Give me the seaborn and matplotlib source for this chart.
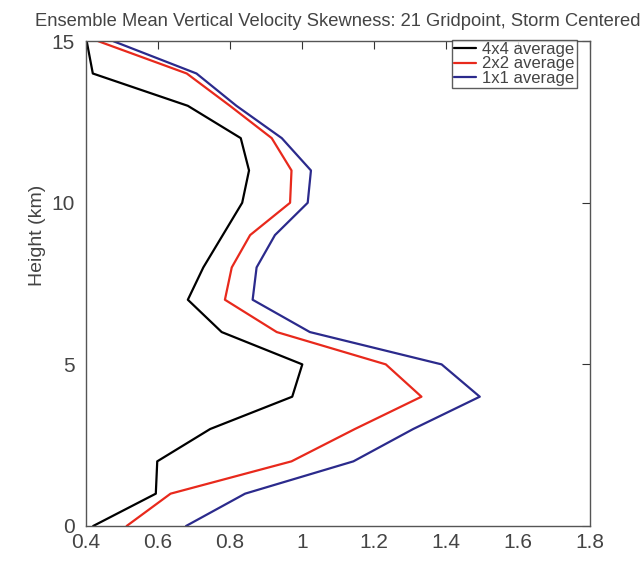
import matplotlib
matplotlib.use("Agg")
import matplotlib.pyplot as plt
import seaborn as sns
import pandas as pd

height_km = [0, 1, 2, 3, 4, 5, 6, 7, 8, 9, 10, 11, 12, 13, 14, 15]
avg_4x4 = [0.42, 0.594, 0.598, 0.745, 0.973, 1.001, 0.777, 0.683, 0.726, 0.78, 0.834, 0.853, 0.83, 0.683, 0.419, 0.402]
avg_2x2 = [0.513, 0.635, 0.971, 1.147, 1.332, 1.233, 0.93, 0.786, 0.805, 0.856, 0.967, 0.971, 0.916, 0.80, 0.68, 0.434]
avg_1x1 = [0.678, 0.842, 1.143, 1.309, 1.494, 1.388, 1.022, 0.863, 0.874, 0.925, 1.016, 1.025, 0.944, 0.818, 0.707, 0.476]
series_names = ["4x4 average", "2x2 average", "1x1 average"]
colors = ["#000000", "#e8291c", "#2b2a8c"]
xticks = [0.4, 0.6, 0.8, 1.0, 1.2, 1.4, 1.6, 1.8]
xtick_labels = ["0.4", "0.6", "0.8", "1", "1.2", "1.4", "1.6", "1.8"]
yticks = [0, 5, 10, 15]

rows = []
for name, vals in zip(series_names, [avg_4x4, avg_2x2, avg_1x1]):
    for h, v in zip(height_km, vals):
        rows.append({"series": name, "height": h, "skew": v})
df = pd.DataFrame(rows)

sns.set_style("white")
plt.rcParams['font.family'] = ['Liberation Sans', 'DejaVu Sans']

fig = plt.figure(figsize=(6.44, 5.64), dpi=100)
ax = fig.add_axes([0.1335, 0.0674, 0.7825, 0.8596])

sns.lineplot(data=df, x="skew", y="height", hue="series", hue_order=series_names,
             palette=colors, sort=False, orient="y", estimator=None, linewidth=1.6, ax=ax)

ax.set_xlim(0.4, 1.8)
ax.set_ylim(0, 15)
ax.set_xticks(xticks)
ax.set_xticklabels(xtick_labels)
ax.set_yticks(yticks)
ax.tick_params(direction="in", top=True, right=True, length=6, width=0.8,
               labelsize=15, colors="#333333")
ax.tick_params(axis="x", pad=5)
ax.tick_params(axis="y", pad=8)
for t in ax.get_xticklabels() + ax.get_yticklabels():
    t.set_color("#444444")
for s in ax.spines.values():
    s.set_color("#555555")
    s.set_linewidth(1.0)
ax.set_xlabel("")
ax.set_ylabel("Height (km)", fontsize=14, color="#444444")
ax.yaxis.set_label_coords(-0.08, 0.60)
fig.text(0.525, 0.962, "Ensemble Mean Vertical Velocity Skewness: 21 Gridpoint, Storm Centered",
         ha="center", va="center", fontsize=13.2, color="#444444")

leg = ax.legend(loc="upper right", bbox_to_anchor=(0.975, 1.003), fontsize=12,
                frameon=True, fancybox=False, handlelength=1.3, handletextpad=0.4,
                borderpad=0.15, labelspacing=-0.05, borderaxespad=0.0)
leg.get_frame().set_edgecolor("#333333")
leg.get_frame().set_linewidth(1.0)
for t in leg.get_texts():
    t.set_color("#444444")

fig.savefig("out.png", dpi=100)
